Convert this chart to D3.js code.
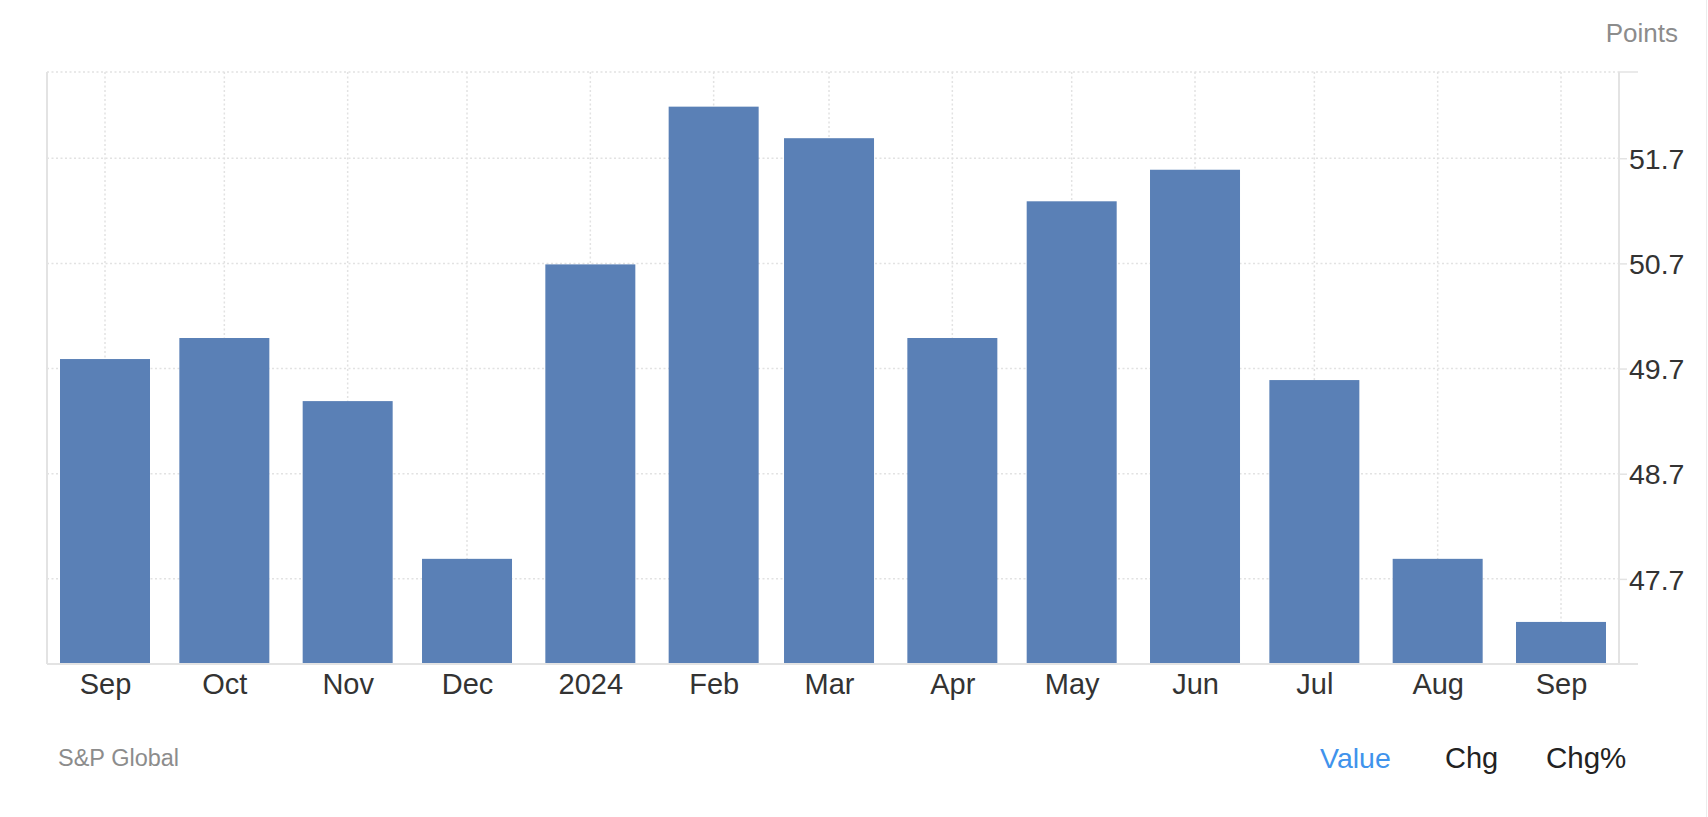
<!DOCTYPE html>
<html>
<head>
<meta charset="utf-8">
<script src="https://cdn.jsdelivr.net/npm/d3@7"></script>
<style>
  html, body { margin: 0; padding: 0; background: #fff; }
  svg { display: block; font-family: "Liberation Sans", Arial, Helvetica, sans-serif; }
</style>
</head>
<body>
<svg id="chart" width="1708" height="817"></svg>
<script>
const dates = ["2023-09-01","2023-10-01","2023-11-01","2023-12-01","2024-01-01","2024-02-01","2024-03-01","2024-04-01","2024-05-01","2024-06-01","2024-07-01","2024-08-01","2024-09-01"];
const labels = ["Sep","Oct","Nov","Dec","2024","Feb","Mar","Apr","May","Jun","Jul","Aug","Sep"];
const values = [49.8, 50.0, 49.4, 47.9, 50.7, 52.2, 51.9, 50.0, 51.3, 51.6, 49.6, 47.9, 47.3];
const yTicks = [47.7, 48.7, 49.7, 50.7, 51.7];
const yDomain = [46.9, 52.52];

const svg = d3.select("#chart");
const L = 47, R = 1619, T = 72, B = 663;
const parse = d3.utcParse("%Y-%m-%d");
const data = dates.map((d, i) => ({ date: parse(d), label: labels[i], value: values[i] }));

const x = d3.scaleUtc().domain([data[0].date, data[data.length - 1].date]).range([105, 1561]);
const y = d3.scaleLinear().domain(yDomain).range([B, T]);
const barW = 90;
const grid = "#e2e2e2";

const g = svg.append("g");
g.selectAll("line.h").data(yTicks.concat([yDomain[1]])).join("line")
  .attr("x1", L).attr("x2", R)
  .attr("y1", d => y(d)).attr("y2", d => y(d))
  .attr("stroke", grid).attr("stroke-width", 1.5).attr("stroke-dasharray", "2,2.5");
g.selectAll("line.v").data(data).join("line")
  .attr("x1", d => x(d.date)).attr("x2", d => x(d.date))
  .attr("y1", T).attr("y2", B)
  .attr("stroke", grid).attr("stroke-width", 1.5).attr("stroke-dasharray", "2,2.5");

svg.append("g").selectAll("rect").data(data).join("rect")
  .attr("x", d => x(d.date) - barW / 2)
  .attr("width", barW)
  .attr("y", d => y(d.value) + 1)
  .attr("height", d => B - y(d.value) - 1)
  .attr("fill", "#5a80b6");

const axisC = "#e3e3e3";
svg.append("line").attr("x1", L).attr("x2", L).attr("y1", T).attr("y2", B + 1)
  .attr("stroke", axisC).attr("stroke-width", 2);
svg.append("line").attr("x1", L).attr("x2", 1638).attr("y1", B + 1).attr("y2", B + 1)
  .attr("stroke", axisC).attr("stroke-width", 2);
svg.append("line").attr("x1", R).attr("x2", R).attr("y1", T).attr("y2", B)
  .attr("stroke", axisC).attr("stroke-width", 2);
svg.append("line").attr("x1", R).attr("x2", 1638).attr("y1", T).attr("y2", T)
  .attr("stroke", axisC).attr("stroke-width", 1.5);

const yAxis = d3.axisRight(y).tickValues(yTicks).tickFormat(d3.format(".1f")).tickSize(8).tickPadding(2);
const ya = svg.append("g").attr("transform", `translate(${R},0)`).call(yAxis);
ya.select(".domain").remove();
ya.selectAll(".tick line").attr("stroke", axisC).attr("stroke-width", 1.5);
ya.selectAll(".tick text").attr("fill", "#333").attr("font-size", 28.5)
  .attr("font-family", "'Liberation Sans', Arial, sans-serif").attr("dy", "0.36em");

const xAxis = d3.axisBottom(x).tickValues(data.map(d => d.date))
  .tickFormat((d, i) => labels[i]).tickSize(0).tickPadding(10);
const xa = svg.append("g").attr("transform", `translate(0,${B})`).call(xAxis);
xa.select(".domain").remove();
xa.selectAll(".tick text").attr("fill", "#333").attr("font-size", 29)
  .attr("font-family", "'Liberation Sans', Arial, sans-serif");

svg.append("text").attr("x", 1678).attr("y", 42).attr("text-anchor", "end")
  .attr("font-size", 26).attr("fill", "#8c8c8c").text("Points");
svg.append("text").attr("x", 58).attr("y", 766)
  .attr("font-size", 23.5).attr("fill", "#8c8c8c").text("S&P Global");
svg.append("text").attr("x", 1320).attr("y", 768)
  .attr("font-size", 28.5).attr("fill", "#3f93ec").text("Value");
svg.append("text").attr("x", 1445).attr("y", 768)
  .attr("font-size", 29).attr("fill", "#222").text("Chg");
svg.append("text").attr("x", 1546).attr("y", 768)
  .attr("font-size", 29.5).attr("fill", "#222").text("Chg%");

svg.append("line").attr("x1", 1706.5).attr("x2", 1706.5).attr("y1", 0).attr("y2", 817)
  .attr("stroke", "#ececec").attr("stroke-width", 1);
</script>
</body>
</html>
